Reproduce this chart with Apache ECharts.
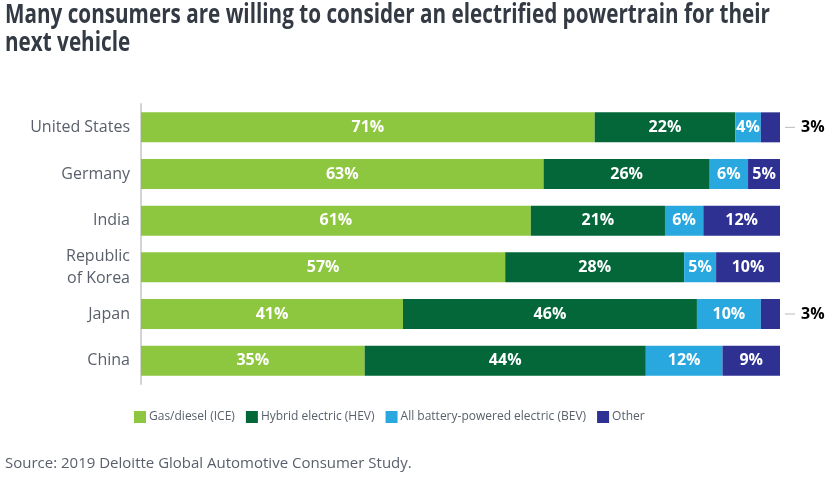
<!DOCTYPE html>
<html><head><meta charset="utf-8">
<script src="https://cdn.jsdelivr.net/npm/echarts@6/dist/echarts.min.js"></script>
<style>html,body{margin:0;padding:0;background:#fff}#c{width:825px;height:480px}</style>
</head><body><div id="c"></div>
<script>
const categories = ['United States','Germany','India','Republic\nof Korea','Japan','China'];
const ice = [71,63,61,57,41,35];
const hev = [22,26,21,28,46,44];
const bev = [4,6,6,5,10,12];
const other = [3,5,12,10,3,9];
const seriesNames = ['Gas/diesel (ICE)','Hybrid electric (HEV)','All battery-powered electric (BEV)','Other'];
const colors = ['#8DC63F','#03673A','#29A8E0','#2E3192'];
const titleLines = ['Many consumers are willing to consider an electrified powertrain for their','next vehicle'];

const chart = echarts.init(document.getElementById('c'));
const font = '"Open Sans", sans-serif';
const textColor = '#5a606b';
// horizontal condensation factor for the title, fitted to the reference width
const titleFont = 'bold 26px "Open Sans"';
const cv = document.createElement('canvas').getContext('2d');
cv.font = titleFont;
const sx = 765 / cv.measureText(titleLines[0]).width;

function mk(name, data, color){
  return {
    name, type:'bar', stack:'a', data, barWidth:30,
    itemStyle:{color},
    label:{show:true, position:'inside', color:'#fff', fontWeight:'bold', fontSize:16, fontFamily:font,
      formatter: p => p.value + '%'}
  };
}
const s4 = mk(seriesNames[3], other.map(v=>{
  if (v<=3) return {value:v, label:{position:'right', distance:5, formatter:'{l|}{v|'+v+'%}',
    rich:{l:{width:10,height:1,backgroundColor:'#bbb'}, v:{color:'#000',fontWeight:'bold',fontSize:16,fontFamily:font,padding:[0,0,0,6]}}}};
  return v;
}), colors[3]);
chart.setOption({
  animation:false,
  legend:{left:129, top:406, itemWidth:12, itemHeight:12, itemGap:11, icon:'rect',
    textStyle:{fontFamily:font, fontSize:12, color:textColor, padding:[0,0,0,-2]}, data:seriesNames},
  graphic:[
    {type:'text', left:5, top:2, scaleX:sx, originX:0, originY:0,
      style:{text:titleLines.join('\n'), font:titleFont, fill:'#333a44', lineHeight:28}},
    {type:'text', left:5, top:456, style:{text:'Source: 2019 Deloitte Global Automotive Consumer Study.', fontFamily:font, fontSize:15, fill:textColor}}
  ],
  grid:{left:141, right:45, top:104, height:280},
  xAxis:{type:'value', min:0, max:100, show:false},
  yAxis:{type:'category', data:categories, inverse:true,
    axisLine:{show:true, lineStyle:{color:'#d4d4d4', width:2}}, axisTick:{show:false},
    axisLabel:{fontFamily:font, fontSize:16, color:textColor, margin:11, lineHeight:22}},
  series:[mk(seriesNames[0],ice,colors[0]), mk(seriesNames[1],hev,colors[1]), mk(seriesNames[2],bev,colors[2]), s4]
});
</script></body></html>
